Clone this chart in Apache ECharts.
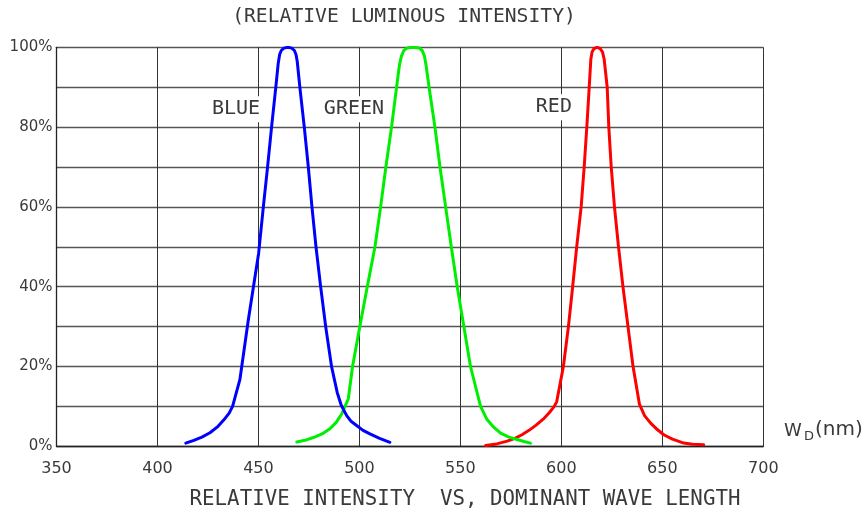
<!DOCTYPE html>
<html>
<head>
<meta charset="utf-8">
<script src="https://cdn.jsdelivr.net/npm/echarts@6/dist/echarts.min.js"></script>
<style>html,body{margin:0;padding:0;background:#fff;}#c{width:868px;height:513px;}</style>
</head>
<body>
<div id="c"></div>
<script>
var xTicks = [350, 400, 450, 500, 550, 600, 650, 700];
var yTickLabels = ['0%', '20%', '40%', '60%', '80%', '100%'];
var blueData = [[414,0.8],[418,1.5],[422,2.3],[426,3.4],[430,5.0],[433,6.7],[435.5,8.3],[437.2,10],[440.8,16.7],[445,31.7],[450.1,48.4],[452.4,59.9],[454.5,69.9],[456.5,80],[458.6,90],[459.8,96],[460.5,98.2],[461.3,99.2],[462.6,99.8],[464.6,100],[466.5,99.8],[467.8,99.2],[468.6,98.2],[469.2,96.5],[470.5,90],[472.7,80],[474.7,70],[476.5,60],[478.5,50],[480.8,40],[483.3,30],[486.2,20],[489,13.5],[491,10.3],[493.7,7.7],[496,6.2],[498.6,5.2],[501.8,4.0],[505.2,3.1],[510,2.0],[515.1,1.0]];
var greenData = [[469,1.1],[473,1.5],[477.2,2.2],[481.5,3.1],[485.4,4.4],[488.5,6],[491.2,8.1],[494.5,11.9],[496.6,20],[500.2,30],[503.9,40],[507.7,50],[510.5,60],[513.1,70],[515.9,80],[518.4,90],[519.8,95.5],[520.8,97.8],[522,99.2],[523.6,99.8],[526.6,100],[529.6,99.8],[531.1,99.2],[532.2,97.8],[533,95.5],[534.5,90],[537.4,80],[539.9,70],[542.7,60],[545.5,50],[548.4,40.1],[551.7,30.1],[555,20],[560,10],[563.2,6.7],[566.5,4.8],[569.9,3.3],[574,2.3],[578.1,1.7],[581.5,1.2],[584.7,0.8]];
var redData = [[562.5,0.2],[568,0.6],[573.2,1.3],[577,2.0],[580.5,2.9],[584,4.0],[587.5,5.3],[591,6.8],[594,8.4],[596.5,10],[597.7,11.2],[601,20],[603.5,30],[605.6,40],[607.6,50],[609.8,60],[611.3,70],[612.6,80],[613.8,90],[614.6,97],[615.2,98.8],[616.2,99.7],[617.7,100],[619.2,99.7],[620.4,98.8],[621.2,97],[622.7,90],[623.5,80],[624.7,70],[626.3,60],[628.3,50],[630.5,40],[633,30],[635.5,20],[638.7,10.5],[641.2,7.7],[644.2,5.8],[647.5,4.2],[650.7,2.9],[655,1.8],[660.6,0.8],[665,0.5],[670.5,0.4]];
var seriesNames = ['BLUE', 'GREEN', 'RED'];
var seriesColors = ['#0000ff', '#00ee00', '#ff0000'];
var nameLabelPos = [[438.9, 84.5], [497.3, 84.5], [596.3, 85]];
var titleText = '(RELATIVE LUMINOUS INTENSITY)';
var bottomText = 'RELATIVE INTENSITY  VS, DOMINANT WAVE LENGTH';

var FONT = 'DejaVu Sans';
var MONO = 'DejaVu Sans Mono';
var TXT = '#3a3a3a';
var chart = echarts.init(document.getElementById('c'));
var datasets = [blueData, greenData, redData];
var series = datasets.map(function (d, i) {
  return {
    type: 'line', name: seriesNames[i], data: d, showSymbol: false, symbol: 'none',
    smooth: false,
    lineStyle: { color: seriesColors[i], width: 3, cap: 'round', join: 'round' },
    z: 3 - i + 2,
    animation: false,
    markPoint: {
      symbol: 'circle', symbolSize: 0, silent: true, animation: false,
      label: {
        show: true, position: 'inside', formatter: seriesNames[i],
        fontFamily: MONO, fontSize: 20, color: TXT, backgroundColor: '#fff', padding: [3, 2]
      },
      data: [{ coord: nameLabelPos[i] }]
    }
  };
});
chart.setOption({
  animation: false,
  grid: { left: 56.5, right: 104.7, top: 47.3, bottom: 66.7, containLabel: false },
  xAxis: {
    type: 'value', min: xTicks[0], max: xTicks[xTicks.length - 1], interval: 50,
    axisLine: { show: true, lineStyle: { color: '#222', width: 1.3 } },
    axisTick: { show: false },
    axisLabel: { fontFamily: FONT, fontSize: 16, color: TXT, margin: 15 },
    splitLine: { show: true, lineStyle: { color: '#333', width: 1 } }
  },
  yAxis: {
    type: 'value', min: 0, max: 100, interval: 10,
    axisLine: { show: true, lineStyle: { color: '#222', width: 1.3 } },
    axisTick: { show: false },
    axisLabel: {
      fontFamily: FONT, fontSize: 15, color: TXT, margin: 4,
      formatter: function (v) { return v % 20 === 0 ? yTickLabels[v / 20] : ''; }
    },
    splitLine: { show: true, lineStyle: { color: '#555', width: 1.4 } }
  },
  series: series,
  graphic: [
    { type: 'text', x: 404, y: 17, style: { text: titleText, font: '19.7px "DejaVu Sans Mono"', fill: TXT, align: 'center', verticalAlign: 'middle' } },
    { type: 'text', x: 465, y: 500, style: { text: bottomText, font: '20.8px "DejaVu Sans Mono"', fill: TXT, align: 'center', verticalAlign: 'middle' } },
    { type: 'text', x: 784, y: 431, style: { text: 'W', font: '18px "DejaVu Sans"', fill: TXT, align: 'left', verticalAlign: 'middle' } },
    { type: 'text', x: 804, y: 437, style: { text: 'D', font: '13px "DejaVu Sans"', fill: TXT, align: 'left', verticalAlign: 'middle' } },
    { type: 'text', x: 815, y: 430, style: { text: '(nm)', font: '20px "DejaVu Sans"', fill: TXT, align: 'left', verticalAlign: 'middle' } }
  ]
});
</script>
</body>
</html>
